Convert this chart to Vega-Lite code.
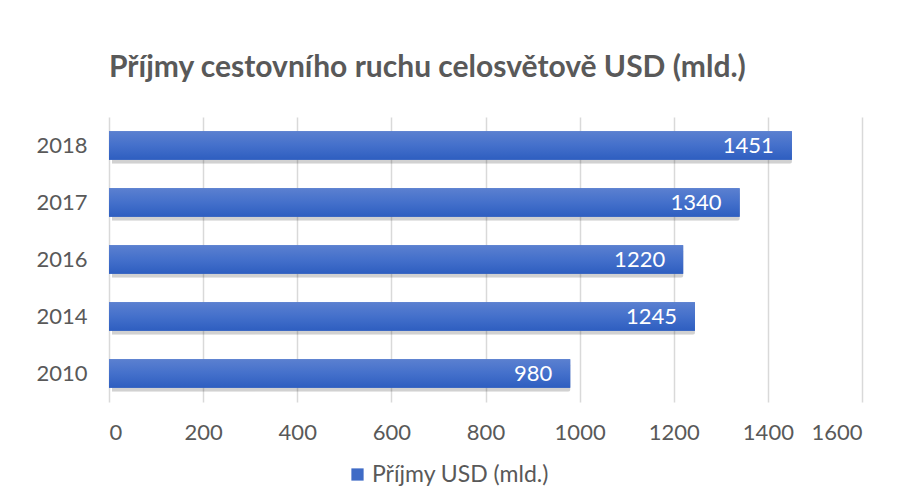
{
  "$schema": "https://vega.github.io/schema/vega-lite/v6.json",
  "width": 753,
  "height": 285,
  "autosize": "none",
  "padding": {"left": 109, "top": 117, "right": 38, "bottom": 90},
  "background": "white",
  "title": {
    "text": "Příjmy cestovního ruchu celosvětově USD (mld.)",
    "anchor": "start",
    "frame": "group",
    "font": "Lato",
    "fontSize": 30,
    "fontWeight": "bold",
    "color": "#595959",
    "offset": 34
  },
  "data": {
    "values": [
      {"rok": "2018", "hodnota": 1451, "serie": "Příjmy USD (mld.)"},
      {"rok": "2017", "hodnota": 1340, "serie": "Příjmy USD (mld.)"},
      {"rok": "2016", "hodnota": 1220, "serie": "Příjmy USD (mld.)"},
      {"rok": "2014", "hodnota": 1245, "serie": "Příjmy USD (mld.)"},
      {"rok": "2010", "hodnota": 980, "serie": "Příjmy USD (mld.)"}
    ]
  },
  "encoding": {
    "y": {
      "field": "rok",
      "type": "nominal",
      "sort": null,
      "scale": {"paddingInner": 0.5, "paddingOuter": 0.25},
      "axis": {
        "title": null,
        "domain": false,
        "ticks": false,
        "labelPadding": 22,
        "labelFont": "Lato",
        "labelFontSize": 22,
        "labelColor": "#595959"
      }
    },
    "x": {
      "field": "hodnota",
      "type": "quantitative",
      "scale": {"domain": [0, 1600], "nice": false},
      "axis": {
        "title": null,
        "values": [0, 200, 400, 600, 800, 1000, 1200, 1400, 1600],
        "format": "d",
        "domain": false,
        "ticks": false,
        "labelPadding": 20,
        "labelFont": "Lato",
        "labelFontSize": 22,
        "labelColor": "#595959",
        "gridColor": "#d9d9d9",
        "gridWidth": 1.5
      }
    }
  },
  "layer": [
    {
      "mark": {"type": "bar", "color": "#000000", "opacity": 0.18, "xOffset": 3, "yOffset": 4, "cornerRadius": 2}
    },
    {
      "mark": {"type": "bar"},
      "encoding": {
        "color": {
          "field": "serie",
          "type": "nominal",
          "scale": {"range": ["#3f6bc6"]},
          "legend": {
            "title": null,
            "orient": "none",
            "legendX": 237,
            "legendY": 346,
            "direction": "horizontal",
            "symbolType": "square",
            "symbolSize": 150,
            "symbolStrokeWidth": 0,
            "labelFont": "Lato",
            "labelFontSize": 23,
            "labelColor": "#595959",
            "labelLimit": 0,
            "labelOffset": 3,
            "padding": 0
          }
        }
      }
    },
    {
      "mark": {
        "type": "bar",
        "color": {
          "gradient": "linear",
          "x1": 0, "y1": 0, "x2": 0, "y2": 1,
          "stops": [
            {"offset": 0, "color": "#5b80d0"},
            {"offset": 0.5, "color": "#4470cb"},
            {"offset": 1, "color": "#2e5ec0"}
          ]
        }
      }
    },
    {
      "mark": {"type": "text", "align": "right", "dx": -18, "color": "white", "font": "Lato", "fontSize": 22},
      "encoding": {"text": {"field": "hodnota", "type": "quantitative"}}
    }
  ],
  "config": {
    "view": {"stroke": null}
  }
}
